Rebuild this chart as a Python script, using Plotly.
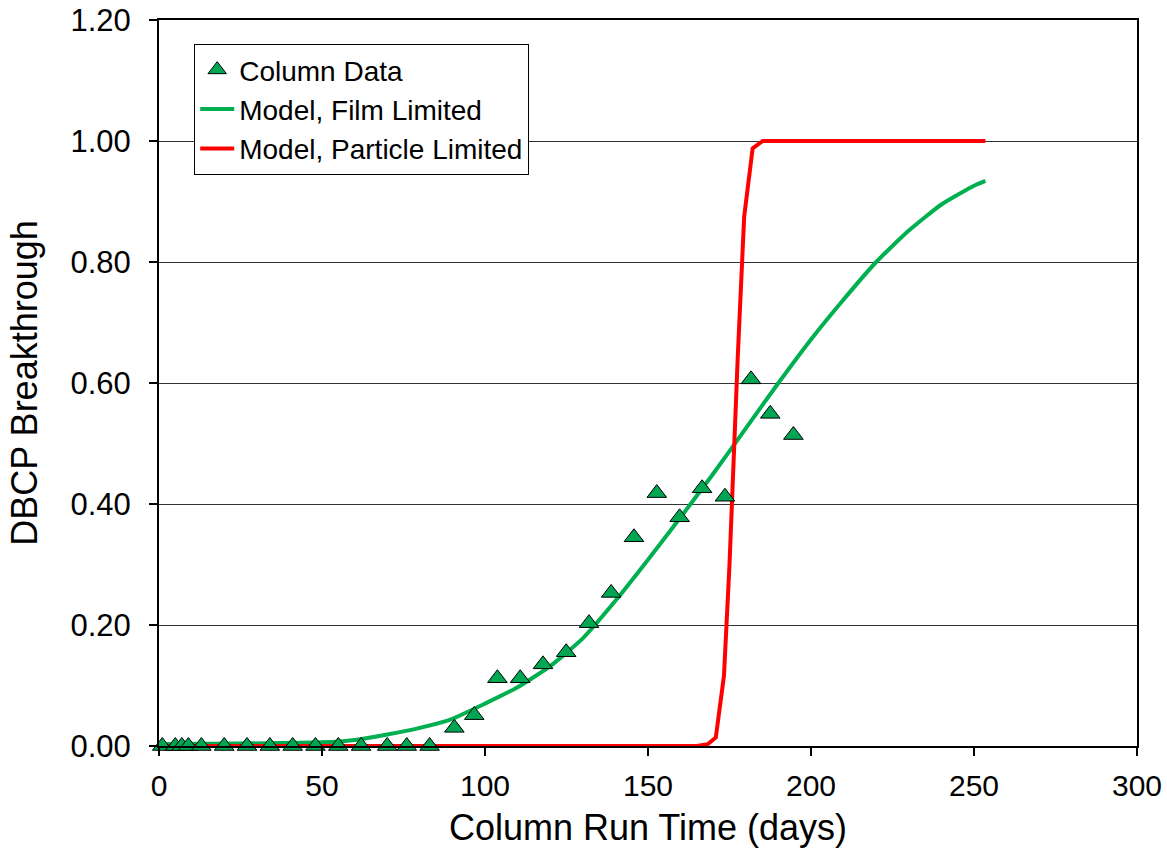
import plotly.graph_objects as go

# Column data (days, breakthrough)
data_x = [1, 5, 7, 9, 13, 20, 27, 34, 41, 48, 55, 62, 70, 76, 83,
          90.6, 96.7, 103.8, 110.8, 117.8, 124.9, 131.9, 138.7, 145.7,
          152.7, 159.7, 166.6, 173.6, 181.6, 187.5, 194.6]
data_y = [0, 0, 0, 0, 0, 0, 0, 0, 0, 0, 0, 0, 0, 0, 0,
          0.030, 0.051, 0.112, 0.112, 0.135, 0.155, 0.203, 0.253, 0.345,
          0.418, 0.378, 0.426, 0.412, 0.606, 0.549, 0.514]

# Model, film limited
film_x = [0, 50, 60, 70, 80, 90, 100, 110, 120, 130, 140, 150, 160, 170,
          180, 190, 200, 210, 220, 230, 240, 250, 253.5]
film_y = [0.003, 0.006, 0.010, 0.019, 0.030, 0.045, 0.070, 0.097, 0.132,
          0.178, 0.240, 0.308, 0.378, 0.450, 0.525, 0.600, 0.672, 0.738,
          0.800, 0.852, 0.895, 0.926, 0.934]

# Model, particle limited
part_x = [0, 165, 168.3, 170.8, 173.3, 175.0, 177.5, 179.5, 182.1, 185.2, 253.5]
part_y = [0, 0, 0.003, 0.014, 0.116, 0.300, 0.639, 0.875, 0.988, 1.0, 1.0]

font_family = "Liberation Sans, Arial, sans-serif"

fig = go.Figure()
fig.add_trace(go.Scatter(
    x=film_x, y=film_y, mode="lines", name="Model, Film Limited",
    legendrank=2,
    line=dict(color="#00B050", width=4, shape="spline", smoothing=0.5)))
fig.add_trace(go.Scatter(
    x=part_x, y=part_y, mode="lines", name="Model, Particle Limited",
    legendrank=3,
    line=dict(color="#FF0000", width=4)))
fig.add_trace(go.Scatter(
    x=data_x, y=data_y, mode="markers", name="Column Data",
    legendrank=1,
    marker=dict(symbol="triangle-up", size=17, color="#00A651",
                line=dict(color="black", width=1)),
    cliponaxis=False))

fig.update_layout(
    width=1167, height=848,
    margin=dict(l=159, r=30, t=20, b=102),
    paper_bgcolor="white", plot_bgcolor="white",
    font=dict(family=font_family, color="black", size=30),
    showlegend=True,
    legend=dict(
        x=0.036, y=0.967, xanchor="left", yanchor="top",
        bgcolor="white", bordercolor="black", borderwidth=1,
        font=dict(size=28, family=font_family),
        traceorder="normal", tracegroupgap=0, itemwidth=34,
    ),
    xaxis=dict(
        range=[0, 300], tickvals=[0, 50, 100, 150, 200, 250, 300],
        ticks="outside", ticklen=8, tickwidth=2, tickcolor="black",
        showline=True, linecolor="black", linewidth=2, mirror=True,
        showgrid=False, zeroline=False, automargin=False,
        tickfont=dict(size=30), ticklabelstandoff=4,
        title=dict(text="Column Run Time (days)", font=dict(size=36), standoff=14),
    ),
    yaxis=dict(
        range=[0, 1.2], tickvals=[0, 0.2, 0.4, 0.6, 0.8, 1.0, 1.2],
        tickformat=".2f",
        ticks="outside", ticklen=8, tickwidth=2, tickcolor="black",
        showline=True, linecolor="black", linewidth=2, mirror=True,
        showgrid=True, gridcolor="#333333", gridwidth=1.2,
        zeroline=False, automargin=False,
        tickfont=dict(size=31), ticklabelstandoff=12,
        title=dict(text="DBCP Breakthrough", font=dict(size=36), standoff=22),
    ),
)

fig.write_html("out.html")
